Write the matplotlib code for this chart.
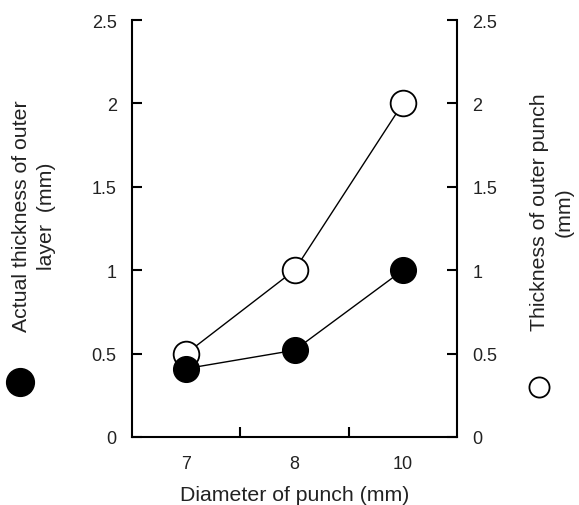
import matplotlib
matplotlib.use("Agg")
import matplotlib.pyplot as plt
from matplotlib.lines import Line2D

plt.rcParams['font.family'] = ['Liberation Sans', 'DejaVu Sans']

categories = ['7', '8', '10']
actual_thickness = [0.41, 0.52, 1.0]      # filled, left axis
punch_thickness = [0.5, 1.0, 2.0]         # open, right axis
yticks = [0, 0.5, 1, 1.5, 2, 2.5]
yticklabels = ['0', '0.5', '1', '1.5', '2', '2.5']

text_color = '#222222'

fig = plt.figure(figsize=(5.79, 5.06), dpi=100)
ax = fig.add_axes([132/579, 68/506, 325/579, 417/506])
ax2 = ax.twinx()

x = list(range(len(categories)))

ax2.plot(x, punch_thickness, color='black', lw=1.0, marker='o', ms=18.5,
         mfc='white', mec='black', mew=1.3, zorder=2, clip_on=False)
ax.plot(x, actual_thickness, color='black', lw=1.0, marker='o', ms=18.5,
        mfc='black', mec='black', zorder=3, clip_on=False)
ax.set_zorder(ax2.get_zorder() + 1)
ax.patch.set_visible(False)

for a in (ax, ax2):
    a.set_ylim(0, 2.5)
    a.set_yticks(yticks)
    a.set_yticklabels(yticklabels)
    a.spines['top'].set_visible(False)
    for s in a.spines.values():
        s.set_linewidth(1.5)
ax.spines['right'].set_visible(False)
ax2.spines['left'].set_visible(False)
ax2.spines['bottom'].set_visible(False)

ax.set_xlim(-0.5, len(categories) - 0.5)
ax.set_xticks([i + 0.5 for i in range(len(categories) - 1)])
ax.set_xticklabels([])
ax.set_xticks(x, minor=True)
ax.set_xticklabels(categories, minor=True)
ax.tick_params(axis='x', which='major', direction='in', length=7, width=1.5)
ax.tick_params(axis='x', which='minor', length=0, pad=13, labelsize=13, labelcolor=text_color)
ax.tick_params(axis='y', direction='in', length=7, width=1.5, pad=11, labelsize=13, labelcolor=text_color)
ax2.tick_params(axis='y', direction='in', length=7, width=1.5, pad=11, labelsize=13, labelcolor=text_color)

ax.set_xlabel('Diameter of punch (mm)', fontsize=15.3, labelpad=9, color=text_color)

fig.text(34/579, 1 - 216/506, 'Actual thickness of outer\nlayer  (mm)', rotation=90,
         ha='center', va='center', fontsize=15.3, multialignment='center',
         linespacing=1.35, color=text_color)
fig.text(552/579, 1 - 212/506, 'Thickness of outer punch\n(mm)', rotation=90,
         ha='center', va='center', fontsize=15.3, multialignment='center',
         linespacing=1.4, color=text_color)

fig.add_artist(Line2D([20/579], [1 - 383/506], transform=fig.transFigure, marker='o',
                      ms=20, mfc='black', mec='black', ls='none'))
fig.add_artist(Line2D([539/579], [1 - 388/506], transform=fig.transFigure, marker='o',
                      ms=14.5, mfc='white', mec='black', mew=1.3, ls='none'))

fig.savefig('out.png', dpi=100)
